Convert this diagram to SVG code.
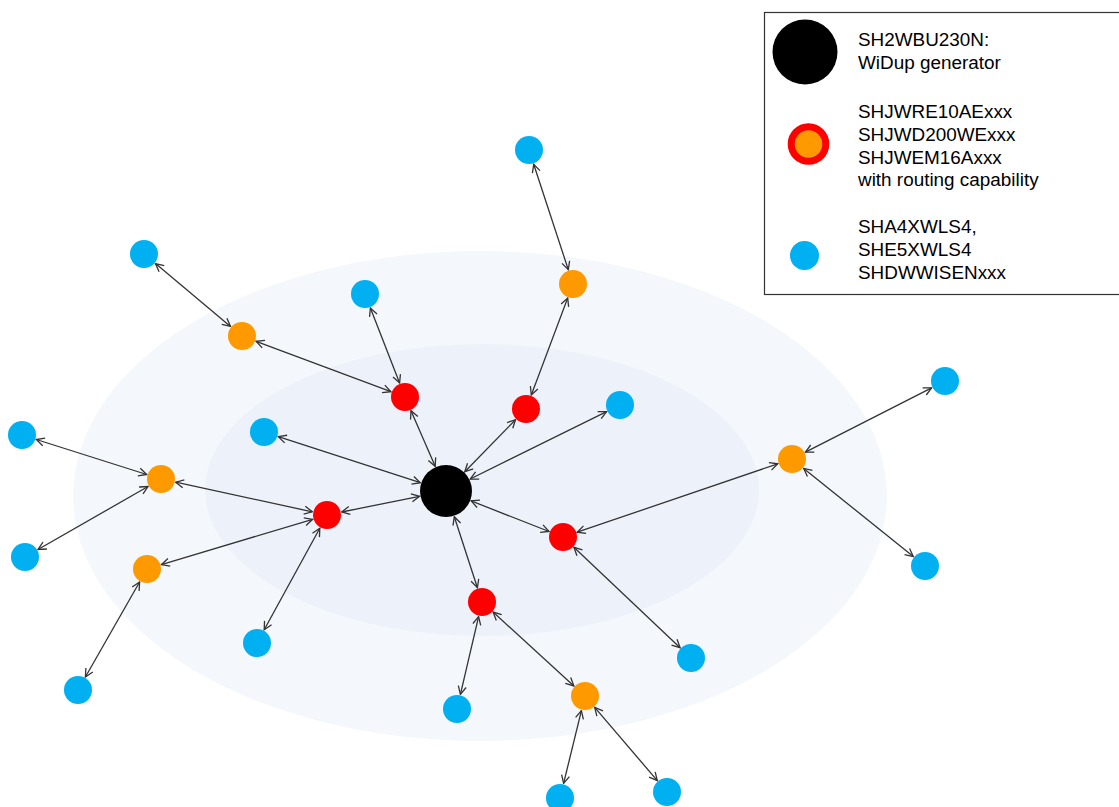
<svg xmlns="http://www.w3.org/2000/svg" width="1119" height="807" viewBox="0 0 1119 807">
<style>
.blue{fill:#00b0f0}
.orange{fill:#ff9900}
.red{fill:#ff0000}
.gen{fill:#000}
.edge{stroke:#333;stroke-width:1.3;fill:none;marker-start:url(#arr);marker-end:url(#arr)}
.lt{font-family:"Liberation Sans",Arial,sans-serif;font-size:18.9px;fill:#000}
</style>
<defs>
<marker id="arr" viewBox="0 0 10 10" refX="9" refY="5" markerWidth="10" markerHeight="10" markerUnits="userSpaceOnUse" orient="auto-start-reverse">
<path d="M1,1 L9,5 L1,9" fill="none" stroke="#333" stroke-width="1.3"/>
</marker>
</defs>
<rect width="1119" height="807" fill="#fff"/>
<ellipse cx="480" cy="496" rx="407" ry="245" fill="#f4f7fb"/>
<ellipse cx="482" cy="490" rx="277" ry="146" fill="#edf2fa"/>
<g id="connectors">
<line class="edge" x1="568.3" y1="269.7" x2="533.7" y2="164.3"/>
<line class="edge" x1="567.7" y1="298.0" x2="531.3" y2="395.0"/>
<line class="edge" x1="515.5" y1="419.7" x2="464.8" y2="471.7"/>
<line class="edge" x1="470.2" y1="479.0" x2="606.6" y2="411.6"/>
<line class="edge" x1="420.3" y1="482.7" x2="278.3" y2="436.6"/>
<line class="edge" x1="435.2" y1="466.3" x2="411.0" y2="410.7"/>
<line class="edge" x1="399.6" y1="383.0" x2="370.4" y2="308.0"/>
<line class="edge" x1="390.9" y1="391.7" x2="256.1" y2="341.3"/>
<line class="edge" x1="230.5" y1="326.4" x2="155.5" y2="263.6"/>
<line class="edge" x1="419.5" y1="496.3" x2="341.7" y2="512.0"/>
<line class="edge" x1="312.3" y1="511.8" x2="175.7" y2="482.2"/>
<line class="edge" x1="146.7" y1="474.5" x2="36.3" y2="439.5"/>
<line class="edge" x1="148.0" y1="486.5" x2="38.0" y2="549.5"/>
<line class="edge" x1="312.6" y1="519.3" x2="161.4" y2="564.7"/>
<line class="edge" x1="319.8" y1="528.2" x2="264.2" y2="629.8"/>
<line class="edge" x1="139.6" y1="582.0" x2="85.4" y2="677.0"/>
<line class="edge" x1="471.1" y1="500.9" x2="549.0" y2="531.5"/>
<line class="edge" x1="577.2" y1="532.2" x2="777.8" y2="463.8"/>
<line class="edge" x1="805.4" y1="452.2" x2="931.6" y2="387.8"/>
<line class="edge" x1="803.7" y1="468.4" x2="913.3" y2="556.6"/>
<line class="edge" x1="573.9" y1="547.3" x2="680.1" y2="647.7"/>
<line class="edge" x1="454.3" y1="516.7" x2="477.4" y2="587.7"/>
<line class="edge" x1="478.6" y1="616.6" x2="460.4" y2="694.4"/>
<line class="edge" x1="493.1" y1="612.1" x2="573.9" y2="685.9"/>
<line class="edge" x1="581.4" y1="710.6" x2="563.6" y2="783.4"/>
<line class="edge" x1="594.7" y1="707.4" x2="657.3" y2="780.6"/>
</g>
<g id="gen"><circle class="gen" cx="446" cy="491" r="26"/></g>
<g id="r1"><circle class="red" cx="405" cy="397" r="14"/></g>
<g id="r2"><circle class="red" cx="526" cy="409" r="14"/></g>
<g id="r3"><circle class="red" cx="327" cy="515" r="14"/></g>
<g id="r4"><circle class="red" cx="563" cy="537" r="14"/></g>
<g id="r5"><circle class="red" cx="482" cy="602" r="14"/></g>
<g id="o1"><circle class="orange" cx="242" cy="336" r="14"/></g>
<g id="o2"><circle class="orange" cx="573" cy="284" r="14"/></g>
<g id="o3"><circle class="orange" cx="161" cy="479" r="14"/></g>
<g id="o4"><circle class="orange" cx="147" cy="569" r="14"/></g>
<g id="o5"><circle class="orange" cx="792" cy="459" r="14"/></g>
<g id="o6"><circle class="orange" cx="585" cy="696" r="14"/></g>
<g id="b1"><circle class="blue" cx="529" cy="150" r="14"/></g>
<g id="b2"><circle class="blue" cx="144" cy="254" r="14"/></g>
<g id="b3"><circle class="blue" cx="365" cy="294" r="14"/></g>
<g id="b4"><circle class="blue" cx="620" cy="405" r="14"/></g>
<g id="b5"><circle class="blue" cx="264" cy="432" r="14"/></g>
<g id="b6"><circle class="blue" cx="22" cy="435" r="14"/></g>
<g id="b7"><circle class="blue" cx="945" cy="381" r="14"/></g>
<g id="b8"><circle class="blue" cx="25" cy="557" r="14"/></g>
<g id="b9"><circle class="blue" cx="925" cy="566" r="14"/></g>
<g id="b10"><circle class="blue" cx="257" cy="643" r="14"/></g>
<g id="b11"><circle class="blue" cx="691" cy="658" r="14"/></g>
<g id="b12"><circle class="blue" cx="78" cy="690" r="14"/></g>
<g id="b13"><circle class="blue" cx="457" cy="709" r="14"/></g>
<g id="b14"><circle class="blue" cx="560" cy="798" r="14"/></g>
<g id="b15"><circle class="blue" cx="667" cy="792" r="14"/></g>
<g id="legend">
<rect x="764.5" y="12.5" width="360" height="282" fill="#fff" stroke="#333" stroke-width="1.2"/>
<circle class="gen" cx="805" cy="52" r="32.5"/>
<circle cx="808.5" cy="144" r="17.3" fill="#ff9900" stroke="#ff0000" stroke-width="7"/>
<circle class="blue" cx="804.5" cy="255.5" r="14.5"/>
<text class="lt" x="858" y="46">SH2WBU230N:</text>
<text class="lt" x="858" y="69">WiDup generator</text>
<text class="lt" x="858" y="118">SHJWRE10AExxx</text>
<text class="lt" x="858" y="141">SHJWD200WExxx</text>
<text class="lt" x="858" y="164">SHJWEM16Axxx</text>
<text class="lt" x="858" y="186">with routing capability</text>
<text class="lt" x="858" y="233">SHA4XWLS4,</text>
<text class="lt" x="858" y="256">SHE5XWLS4</text>
<text class="lt" x="858" y="279">SHDWWISENxxx</text>
</g>
</svg>
